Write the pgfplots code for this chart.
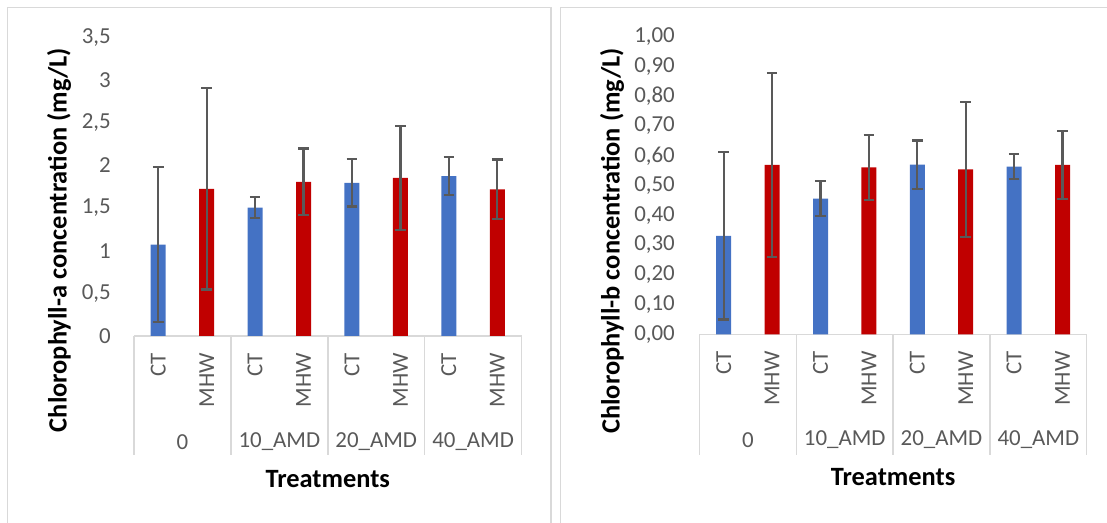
\documentclass[border=0pt]{standalone}
\usepackage{pgfplots}
\pgfplotsset{compat=1.18}
\usepackage{fontspec}
\setmainfont{Carlito}
\definecolor{ctblue}{HTML}{4472C4}
\definecolor{mhwred}{HTML}{C00000}
\definecolor{sepgray}{HTML}{D9D9D9}
\definecolor{txtgray}{HTML}{595959}
\newcommand{\tickfont}{\fontsize{23}{27}\selectfont}
\newcommand{\titlefont}{\fontsize{26.5}{30}\selectfont\bfseries}
\pgfplotsset{
  chl/.style={
    scale only axis,
    anchor=south west,
    xmin=-0.5, xmax=7.5, ymin=0,
    axis x line=bottom, axis y line=left,
    axis line style={-},
    y axis line style={draw=none},
    x axis line style={draw=sepgray, line width=1.5bp},
    major tick length=0pt,
    tick style={draw=none},
    xtick={0,...,7},
    xticklabels={CT,MHW,CT,MHW,CT,MHW,CT,MHW},
    xticklabel style={rotate=90, anchor=east, inner sep=0pt, font=\tickfont, text=txtgray},
    xticklabel shift=17bp,
    /pgf/number format/assume math mode=true,
    clip=false,
  },
  bars/.style={ybar, bar width=15bp, bar shift=0pt, draw=none, fill=#1,
    error bars/.cd, y dir=both, y explicit,
    error bar style={draw=txtgray, line width=2.2bp},
    error mark options={rotate=90, draw=txtgray, line width=2.2bp, mark size=5.3bp}},
}
\begin{document}
\begin{tikzpicture}
\useasboundingbox (0,0) rectangle (1107bp,523bp);
% panel borders
\draw[sepgray, line width=1.7bp] (7.5bp,-5bp) -- (7.5bp,515.5bp) -- (551bp,515.5bp) -- (551bp,-5bp);
\draw[sepgray, line width=1.7bp] (560.5bp,-5bp) -- (560.5bp,515.5bp) -- (1115bp,515.5bp);
% ---------- left ----------
\begin{axis}[chl,
  at={(134bp,187bp)}, width=387.5bp, height=298.7bp,
  ymax=3.5, ytick={0,0.5,...,3.5},
  yticklabel style={inner sep=0pt, xshift=-23bp, font=\tickfont, text=txtgray,
    /pgf/number format/.cd, use comma, fixed},
]
\addplot[bars=ctblue] coordinates {
  (0,1.070) +- (0,0.909)
  (2,1.505) +- (0,0.120)
  (4,1.795) +- (0,0.278)
  (6,1.874) +- (0,0.221)
};
\addplot[bars=mhwred] coordinates {
  (1,1.725) +- (0,1.180)
  (3,1.807) +- (0,0.390)
  (5,1.854) +- (0,0.610)
  (7,1.717) +- (0,0.350)
};
\pgfplotsinvokeforeach{-0.5,1.5,3.5,5.5,7.5}{
  \draw[sepgray, line width=1.5bp] (axis cs:#1,0) -- ++(0bp,-119bp);
}
\node[font=\tickfont, text=txtgray] at ([yshift=-106bp]axis cs:0.5,0) {0};
\node[font=\tickfont, text=txtgray] at ([yshift=-106bp]axis cs:2.5,0) {10\_AMD};
\node[font=\tickfont, text=txtgray] at ([yshift=-106bp]axis cs:4.5,0) {20\_AMD};
\node[font=\tickfont, text=txtgray] at ([yshift=-106bp]axis cs:6.5,0) {40\_AMD};
\node[font=\titlefont] at ([yshift=-143bp]axis cs:3.5,0) {Treatments};
\end{axis}
\node[rotate=90, font=\titlefont] at (59bp,283bp) {Chlorophyll-a concentration (mg/L)};
% ---------- right ----------
\begin{axis}[chl,
  at={(699.5bp,188.7bp)}, width=387.2bp, height=297.6bp,
  ymax=1, ytick={0,0.1,...,1.0},
  yticklabel style={inner sep=0pt, xshift=-24.5bp, font=\tickfont, text=txtgray,
    /pgf/number format/.cd, use comma, fixed, fixed zerofill, precision=2},
]
\addplot[bars=ctblue] coordinates {
  (0,0.331) +- (0,0.281)
  (2,0.456) +- (0,0.059)
  (4,0.570) +- (0,0.081)
  (6,0.563) +- (0,0.042)
};
\addplot[bars=mhwred] coordinates {
  (1,0.569) +- (0,0.310)
  (3,0.561) +- (0,0.109)
  (5,0.554) +- (0,0.227)
  (7,0.569) +- (0,0.114)
};
\pgfplotsinvokeforeach{-0.5,1.5,3.5,5.5,7.5}{
  \draw[sepgray, line width=1.5bp] (axis cs:#1,0) -- ++(0bp,-121bp);
}
\node[font=\tickfont, text=txtgray] at ([yshift=-105.7bp]axis cs:0.5,0) {0};
\node[font=\tickfont, text=txtgray] at ([yshift=-105.7bp]axis cs:2.5,0) {10\_AMD};
\node[font=\tickfont, text=txtgray] at ([yshift=-105.7bp]axis cs:4.5,0) {20\_AMD};
\node[font=\tickfont, text=txtgray] at ([yshift=-105.7bp]axis cs:6.5,0) {40\_AMD};
\node[font=\titlefont] at ([yshift=-142.7bp]axis cs:3.5,0) {Treatments};
\end{axis}
\node[rotate=90, font=\titlefont] at (612bp,282bp) {Chlorophyll-b concentration (mg/L)};
\end{tikzpicture}
\end{document}
